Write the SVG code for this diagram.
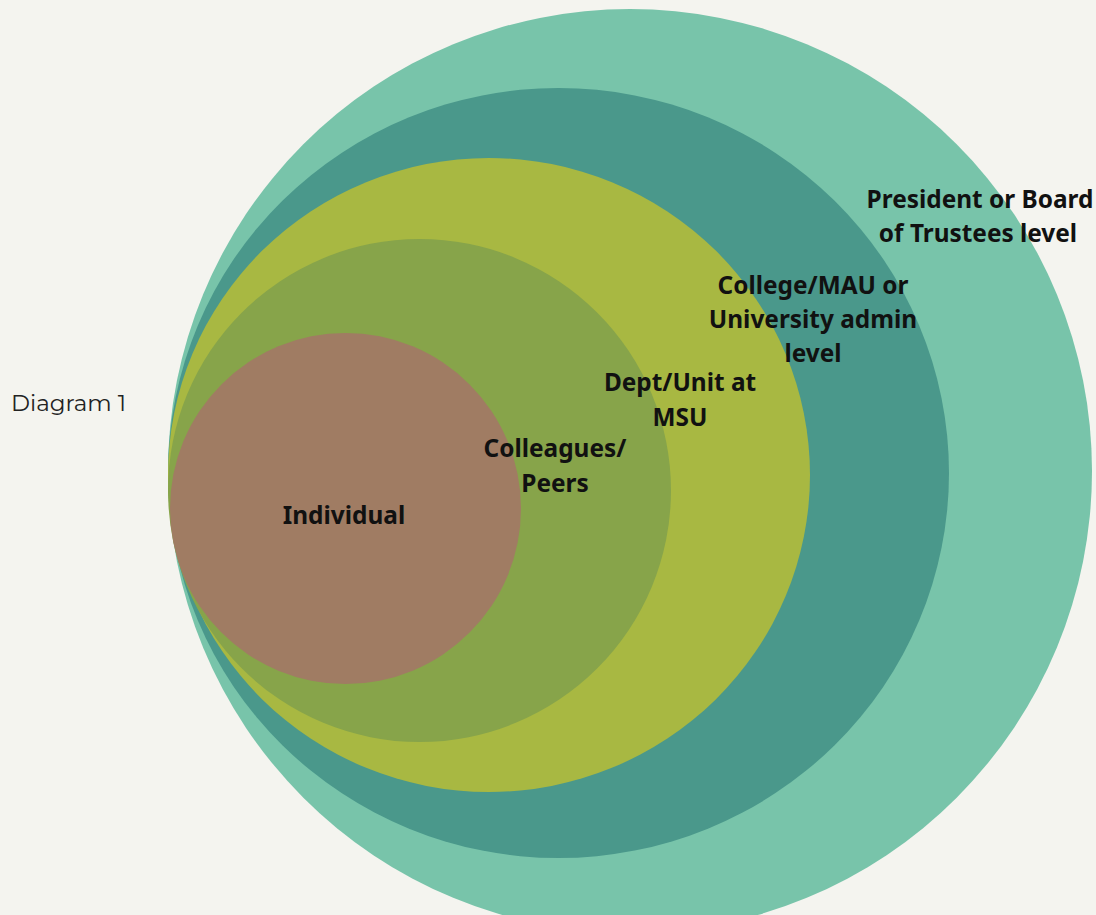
<svg xmlns="http://www.w3.org/2000/svg" width="1096" height="915" viewBox="0 0 1096 915">
<style>
.lbl{font-family:"Noto Sans","Open Sans",sans-serif;font-weight:700;font-size:24.4px;fill:#111;text-anchor:middle}
.cap{font-family:"Montserrat","Lato","Open Sans",sans-serif;font-size:23px;fill:#222}
</style>
<rect width="1096" height="915" fill="#f4f4ef"/>
<text class="cap" x="11" y="411">Diagram 1</text>
<g id="president"><circle cx="630" cy="471" r="462" fill="#78c4aa"/></g>
<g id="college"><ellipse cx="558.5" cy="473" rx="390.5" ry="385" fill="#4a988b"/></g>
<g id="dept"><ellipse cx="489" cy="475" rx="321" ry="317" fill="#a8b842"/></g>
<g id="colleagues"><ellipse cx="419.5" cy="490.5" rx="251.5" ry="251.5" fill="#87a44a"/></g>
<g id="individual"><ellipse cx="345.5" cy="508.5" rx="175.5" ry="175.5" fill="#a07c63"/></g>
<g id="labels">
<text class="lbl" x="980" y="208">President or Board</text>
<text class="lbl" x="978" y="242">of Trustees level</text>
<text class="lbl" x="813" y="294">College/MAU or</text>
<text class="lbl" x="813" y="328">University admin</text>
<text class="lbl" x="813" y="362">level</text>
<text class="lbl" x="680" y="391">Dept/Unit at</text>
<text class="lbl" x="680" y="426">MSU</text>
<text class="lbl" x="555" y="457">Colleagues/</text>
<text class="lbl" x="555" y="492">Peers</text>
<text class="lbl" x="344" y="524">Individual</text>
</g>
<g id="connectors"/>
</svg>
